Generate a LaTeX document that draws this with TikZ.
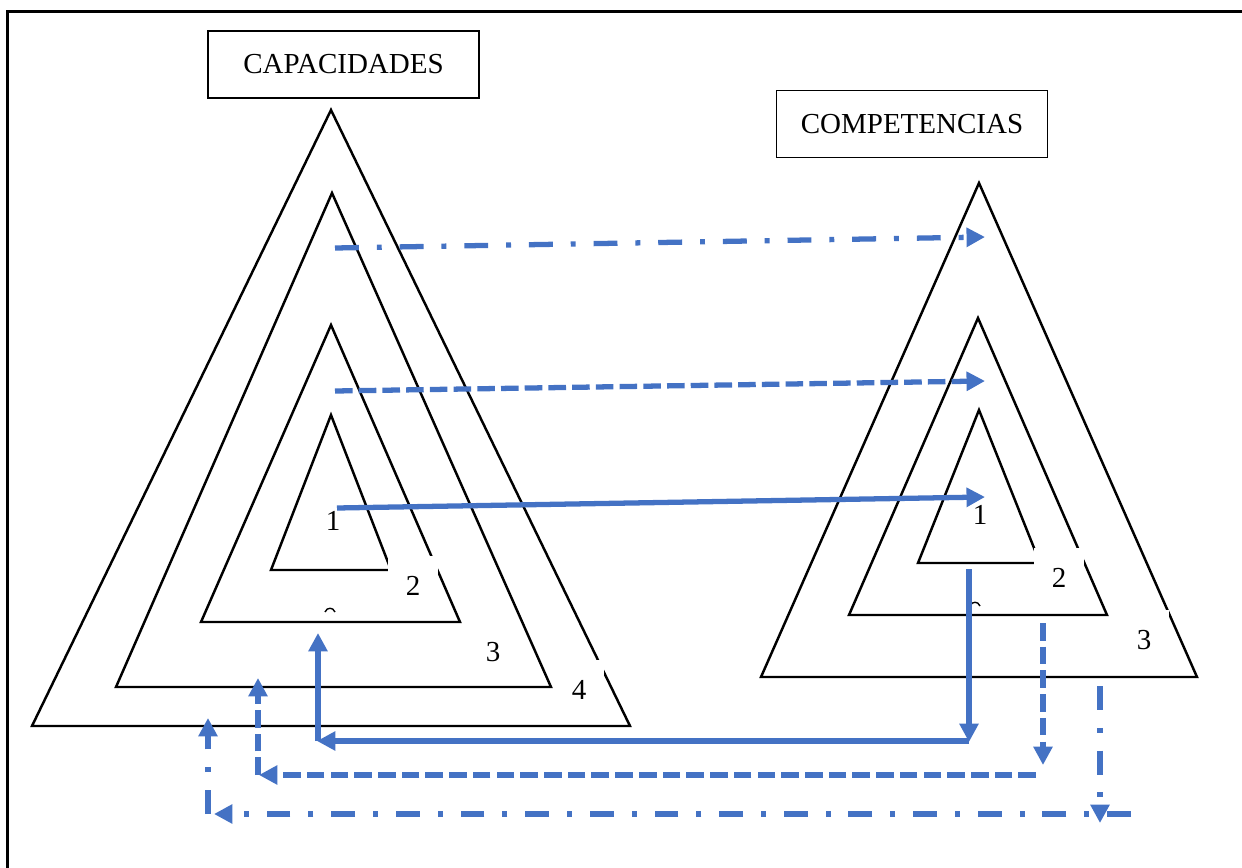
\documentclass[tikz,border=0pt]{standalone}
\usepackage{fontspec}
\setmainfont{Liberation Serif}
\usetikzlibrary{arrows.meta}
\definecolor{linkblue}{RGB}{68,114,196}

\tikzset{
  titlebox/.style={draw,line width=1.1pt,minimum width=5.42cm,minimum height=1.34cm,inner sep=0pt,font=\fontsize{16.5}{20}\selectfont},
  numbox/.style={fill=white,minimum width=1cm,minimum height=1.2cm,inner sep=0pt,font=\fontsize{16.5}{20}\selectfont},
  link/.style={draw=linkblue,line width=3pt,-{Triangle[length=10.5pt,width=10.5pt]}},
  dashlink/.style={link,dash pattern=on 10pt off 3.5pt},
  dotlink/.style={link,dash pattern=on 13.6pt off 10.2pt on 2.8pt off 10.2pt}
}

\begin{document}
\begin{tikzpicture}[x=0.02cm,y=-0.02cm,line width=1.4pt,line join=miter]
\useasboundingbox (0,0) rectangle (1242,868);
\clip (0,0) rectangle (1242,868);
\draw[line width=1.7pt] (7.5,11.5) rectangle (1300,920);

\node[titlebox] (capa) at (343.5,64.5) {CAPACIDADES};
\node[titlebox] (comp) at (912,124) {COMPETENCIAS};

% capacidades
\draw (331,110) -- (630,726) -- (32,726) -- cycle;
\draw (332,193) -- (551,687) -- (116,687) -- cycle;
\draw (331,325) -- (460,622) -- (201,622) -- cycle;
\draw (331,415) -- (391,570) -- (271,570) -- cycle;
% competencias
\draw (979,183) -- (1197,677) -- (761,677) -- cycle;
\draw (978,318) -- (1107,615) -- (849,615) -- cycle;
\draw (979,410) -- (1040,563) -- (918,563) -- cycle;

\node[numbox] (l1) at (333,521) {1};
\node[numbox] (l2) at (413,586) {\raisebox{-3pt}{2}};
\node[numbox,minimum width=0.8cm] (l3) at (493,652) {3};
\node[numbox] (l4) at (579,690) {\raisebox{-3pt}{4}};
\node[numbox] (r1) at (980,515) {1};
\node[numbox] (r2) at (1059,578) {2};
\node[numbox] (r3) at (1144,640) {3};
\draw[line width=0.8pt] (325,612) .. controls (327,607) and (333,607) .. (335,612);
\draw[line width=0.8pt] (970,606) .. controls (972,601) and (978,601) .. (980,606);

\coordinate (a1) at (337,508);
\coordinate (b1) at (985,497);
\coordinate (a2) at (335,391);
\coordinate (b2) at (985,381);
\coordinate (a3) at (335,248);
\coordinate (b3) at (985,237);
\draw[link] (a1) -- (b1);
\draw[dashlink] (a2) -- (b2);
\draw[dotlink] (a3) -- (b3);

% back to capacidades
\coordinate (s0) at (969,569);
\coordinate (s1) at (969,742);
\coordinate (s2) at (317,741);
\coordinate (s3) at (318,633);
\draw[link] (s0) -- (s1);
\draw[link] (s1 |- s2) -- (s2);
\draw[link] (s3 |- s2) -- (s3);

\coordinate (d0) at (1043,623);
\coordinate (d1) at (1043,765);
\coordinate (d2) at (259,775);
\coordinate (d3) at (258,678);
\draw[dashlink] (d0) -- (d1);
\draw[dashlink] (1036,775) -- (d2);
\draw[dashlink] (d3 |- d2) -- (d3);

\coordinate (e0) at (1100,686);
\coordinate (e1) at (1100,823);
\coordinate (e2) at (214,814);
\coordinate (e3) at (208,718);
\draw[dotlink] (e0) -- (e1);
\draw[dotlink] (1131,814) -- (e2);
\draw[dotlink] (e3 |- e2) -- (e3);
\end{tikzpicture}
\end{document}
